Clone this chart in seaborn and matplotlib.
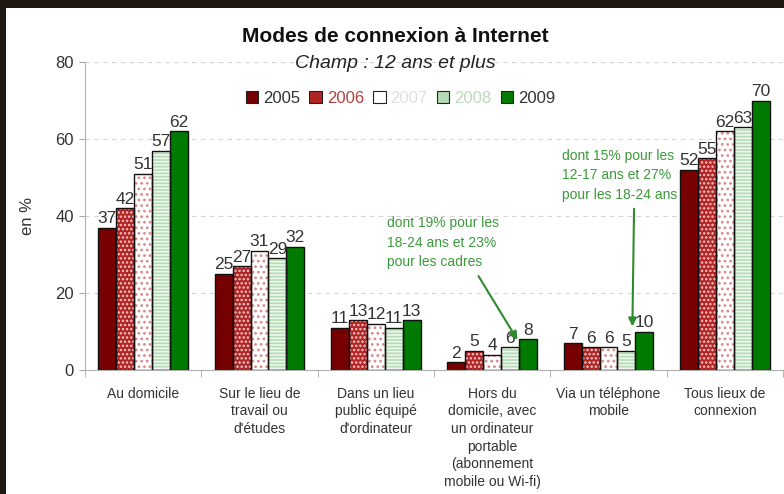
import numpy as np
import pandas as pd
import matplotlib
matplotlib.use("Agg")
import matplotlib.pyplot as plt
import seaborn as sns
from matplotlib.patches import Patch, Rectangle

# données
categories = [
    "Au domicile",
    "Sur le lieu de\ntravail ou\nd'études",
    "Dans un lieu\npublic équipé\nd'ordinateur",
    "Hors du\ndomicile, avec\nun ordinateur\nportable\n(abonnement\nmobile ou Wi-fi)",
    "Via un téléphone\nmobile",
    "Tous lieux de\nconnexion",
]
annees = ["2005", "2006", "2007", "2008", "2009"]
v2005 = [37, 25, 11, 2, 7, 52]
v2006 = [42, 27, 13, 5, 6, 55]
v2007 = [51, 31, 12, 4, 6, 62]
v2008 = [57, 29, 11, 6, 5, 63]
v2009 = [62, 32, 13, 8, 10, 70]

series = [v2005, v2006, v2007, v2008, v2009]
rows = []
for an, vals in zip(annees, series):
    for cat, v in zip(categories, vals):
        rows.append({"cat": cat, "annee": an, "val": v})
df = pd.DataFrame(rows)

# styles
faces = ["#760000", "#b02424", "#ffffff", "#b4dcb4", "#007a00"]
hatch_cols = ["#760000", "#f2c8c8", "#d88a8a", "#eef8ee", "#007a00"]
hatches = [None, "....", "...", "-----", None]
legend_txt = ["#333333", "#b04040", "#e6dede", "#bcd8bc", "#333333"]

sns.set_style("white")
plt.rcParams["font.family"] = ["Liberation Sans", "DejaVu Sans"]
plt.rcParams["hatch.linewidth"] = 1.2

fig = plt.figure(figsize=(7.84, 4.94), dpi=100)
fig.patch.set_facecolor("#1e1712")
fig.add_artist(Rectangle((6 / 784, 0), 1, 1 - 8 / 494, transform=fig.transFigure,
                         facecolor="white", edgecolor="none", zorder=-10))

ax = fig.add_axes([85 / 784, 1 - 370 / 494, 698 / 784, 308 / 494])
ax.set_facecolor("none")

pal = dict(zip(annees, faces))
sns.barplot(data=df, x="cat", y="val", hue="annee", palette=pal, order=categories,
            hue_order=annees, width=0.77, gap=0, legend=False, ax=ax,
            saturation=1, linewidth=0, zorder=2)

for i, cont in enumerate(ax.containers):
    for p in cont:
        p.set_edgecolor(hatch_cols[i])
        p.set_linewidth(0)
        if hatches[i]:
            p.set_hatch(hatches[i])

n_fill = len(ax.containers)
# contours noirs
sns.barplot(data=df, x="cat", y="val", hue="annee", order=categories,
            hue_order=annees, width=0.77, gap=0, legend=False, ax=ax,
            fill=False, linewidth=1, zorder=3)
for cont in ax.containers[n_fill:]:
    for p in cont:
        p.set_edgecolor("#111111")

for cont in ax.containers[:n_fill]:
    ax.bar_label(cont, labels=[f"{int(v)}" for v in cont.datavalues], padding=1,
                 fontsize=12.5, color="#333333")

ax.set_ylim(0, 80)
ax.set_xlim(-0.5, 5.5)
ax.set_yticks([0, 20, 40, 60, 80])
ax.yaxis.grid(True, color="#d4d4d4", linestyle=(0, (4, 4)), linewidth=0.8)
ax.set_axisbelow(True)
ax.tick_params(axis="y", labelsize=12, labelcolor="#333333", length=4,
               color="#aaaaaa", direction="out", left=True, pad=4)

ax.set_xticks(range(len(categories)))
ax.set_xticklabels(categories, fontsize=10, color="#333333", linespacing=1.33)
ax.set_xticks(np.arange(-0.5, 6.0, 1.0), minor=True)
ax.tick_params(axis="x", which="major", length=0, pad=12)
ax.tick_params(axis="x", which="minor", length=5, color="#aaaaaa", bottom=True)

for s in ["top", "right"]:
    ax.spines[s].set_visible(False)
for s in ["left", "bottom"]:
    ax.spines[s].set_color("#b0b0b0")
    ax.spines[s].set_linewidth(0.8)

ax.set_xlabel("")
ax.set_ylabel("en %", fontsize=12, color="#333333")
ax.yaxis.set_label_coords(-0.072, 0.5)

fig.text(395 / 784, 1 - 37 / 494, "Modes de connexion à Internet", ha="center",
         va="center", fontsize=15, fontweight="bold", color="#111111")
fig.text(395 / 784, 1 - 64 / 494, "Champ : 12 ans et plus", ha="center",
         va="center", fontsize=14, style="italic", color="#222222")

handles = [Patch(facecolor=faces[i], edgecolor="#222222", linewidth=0.8)
           for i in range(len(annees))]
leg = ax.legend(handles, annees, loc="center", bbox_to_anchor=(0.452, 0.882), ncol=5,
                frameon=False, fontsize=12, handlelength=0.75, handleheight=0.75,
                handletextpad=0.3, columnspacing=0.55)
for t, c in zip(leg.get_texts(), legend_txt):
    t.set_color(c)

vert = "#3a9a3a"
ax.text(2.10, 40.0, "dont 19% pour les\n18-24 ans et 23%\npour les cadres",
        fontsize=10, color=vert, va="top", ha="left", linespacing=1.5)
ax.annotate("", xy=(3.23, 7.2), xytext=(2.87, 25.0),
            arrowprops=dict(arrowstyle="-|>", color="#2e8b2e", lw=1.5, mutation_scale=12))
ax.text(3.60, 57.5, "dont 15% pour les\n12-17 ans et 27%\npour les 18-24 ans",
        fontsize=10, color=vert, va="top", ha="left", linespacing=1.5)
ax.annotate("", xy=(4.205, 10.6), xytext=(4.22, 42.6),
            arrowprops=dict(arrowstyle="-|>", color="#2e8b2e", lw=1.5, mutation_scale=12))

fig.savefig("out.png", dpi=100, facecolor=fig.get_facecolor())
